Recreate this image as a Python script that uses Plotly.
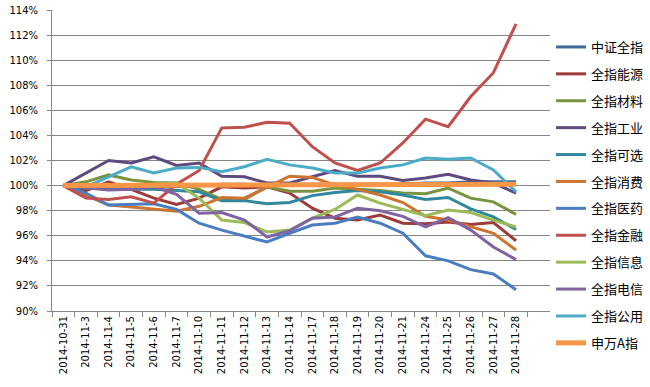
import plotly.graph_objects as go

dates = ["2014-10-31", "2014-11-3", "2014-11-4", "2014-11-5", "2014-11-6", "2014-11-7",
         "2014-11-10", "2014-11-11", "2014-11-12", "2014-11-13", "2014-11-14",
         "2014-11-17", "2014-11-18", "2014-11-19", "2014-11-20", "2014-11-21",
         "2014-11-24", "2014-11-25", "2014-11-26", "2014-11-27", "2014-11-28"]

csi_all = [100, 99.9, 99.9, 99.8, 99.9, 99.9, 100.0, 100.1, 100.1, 100.0, 100.1,
           100.1, 100.1, 100.1, 100.1, 100.1, 100.2, 100.2, 100.3, 100.3, 100.3]
energy = [100, 99.6, 100.3, 99.7, 99.0, 98.5, 99.0, 99.9, 99.8, 99.9, 99.4,
          98.2, 97.4, 97.25, 97.65, 97.0, 96.95, 97.1, 96.9, 97.05, 95.6]
materials = [100, 100.3, 100.85, 100.45, 100.25, 100.2, 99.7, 98.9, 98.9, 99.9, 99.55,
             99.55, 99.8, 99.7, 99.6, 99.4, 99.35, 99.8, 99.0, 98.7, 97.7]
industrials = [100, 101.0, 102.0, 101.8, 102.3, 101.6, 101.8, 100.75, 100.7, 100.2, 100.2,
               100.7, 101.2, 100.75, 100.75, 100.4, 100.6, 100.9, 100.45, 100.2, 99.4]
cons_disc = [100, 99.8, 99.7, 99.7, 99.7, 99.6, 99.5, 98.8, 98.8, 98.55, 98.65,
             99.2, 99.45, 99.6, 99.5, 99.25, 98.9, 99.05, 98.15, 97.5, 96.5]
cons_stap = [100, 99.25, 98.45, 98.3, 98.15, 97.95, 98.35, 99.05, 99.0, 99.9, 100.75,
             100.65, 100.05, 99.7, 99.25, 98.65, 97.55, 97.25, 96.7, 96.2, 94.85]
health = [100, 99.4, 98.45, 98.5, 98.55, 98.1, 97.0, 96.45, 96.0, 95.5, 96.2,
          96.85, 97.0, 97.5, 97.0, 96.2, 94.4, 94.0, 93.3, 92.95, 91.7]
financials = [100, 99.0, 98.9, 99.1, 98.6, 100.1, 101.2, 104.6, 104.65, 105.05, 104.97,
              103.1, 101.8, 101.2, 101.8, 103.4, 105.3, 104.7, 107.1, 109.0, 112.9]
info_tech = [100, 100.0, 100.0, 99.95, 100.1, 100.2, 99.0, 97.25, 97.05, 96.3, 96.45,
             97.4, 98.1, 99.25, 98.6, 98.1, 97.6, 98.05, 97.85, 97.25, 96.7]
telecom = [100, 99.8, 99.65, 99.7, 99.9, 99.3, 97.8, 97.85, 97.25, 95.9, 96.4,
           97.4, 97.5, 98.2, 98.0, 97.55, 96.7, 97.45, 96.45, 95.1, 94.1]
utilities = [100, 99.9, 100.7, 101.5, 101.0, 101.4, 101.45, 101.1, 101.5, 102.1, 101.65,
             101.4, 101.0, 101.0, 101.4, 101.65, 102.2, 102.1, 102.2, 101.25, 99.5]
sw_a = [100, 100.0, 100.0, 100.0, 100.0, 100.0, 100.0, 100.0, 100.0, 100.0, 100.0,
        100.0, 100.0, 100.0, 100.0, 100.0, 100.1, 100.1, 100.1, 100.1, 100.1]

names = ["中证全指", "全指能源", "全指材料", "全指工业", "全指可选", "全指消费",
         "全指医药", "全指金融", "全指信息", "全指电信", "全指公用", "申万A指"]
series = [csi_all, energy, materials, industrials, cons_disc, cons_stap,
          health, financials, info_tech, telecom, utilities, sw_a]
colors = ["#3F6A9A", "#9C3B38", "#789440", "#5F4A80", "#31879C", "#CC7430",
          "#4A7EC1", "#C0504D", "#9BBB59", "#8064A2", "#4BACC6", "#F79646"]
widths = [3, 3, 3, 3, 3, 3, 3, 3, 3, 3, 3, 5]

fig = go.Figure()
for name, vals, col, w in zip(names, series, colors, widths):
    fig.add_trace(go.Scatter(
        x=dates, y=[v / 100 for v in vals], name=name, mode="lines",
        line=dict(color=col, width=w), legendgroup=name,
    ))

W, H = 650, 387
fig.update_layout(
    width=W, height=H,
    margin=dict(l=52, r=100, t=10, b=76, autoexpand=False),
    paper_bgcolor="white", plot_bgcolor="white",
    font=dict(family="DejaVu Sans", size=10, color="#000000"),
    showlegend=True,
    legend=dict(
        xref="container", yref="container",
        x=551 / W, y=1 - 32 / H, xanchor="left", yanchor="top",
        font=dict(family="Noto Sans CJK SC", size=13, color="#000000"),
        tracegroupgap=7, itemwidth=30, bgcolor="rgba(0,0,0,0)",
        maxheight=1.0,
    ),
)
fig.update_xaxes(
    type="category", categoryorder="array", categoryarray=dates,
    range=[-0.5, 21.5], tickangle=-90, tickson="boundaries",
    ticks="outside", ticklen=5, tickcolor="#868686",
    showline=True, linecolor="#868686", linewidth=1,
    showgrid=False, zeroline=False, automargin=False,
    tickfont=dict(family="DejaVu Sans", size=10, color="#000000"),
)
fig.update_yaxes(
    range=[0.90, 1.14], dtick=0.02, tick0=0.90, tickformat=".0%",
    ticks="outside", ticklen=4, tickcolor="#868686",
    showline=True, linecolor="#868686", linewidth=1,
    showgrid=True, gridcolor="#868686", gridwidth=1, zeroline=False,
    automargin=False, ticklabeloverflow="allow",
    tickfont=dict(family="DejaVu Sans", size=10, color="#000000"),
    ticklabelstandoff=7,
)

fig.write_html("out.html",
               config={"displayModeBar": False},
               post_script="document.body.style.margin='0';document.body.style.overflow='hidden';")
